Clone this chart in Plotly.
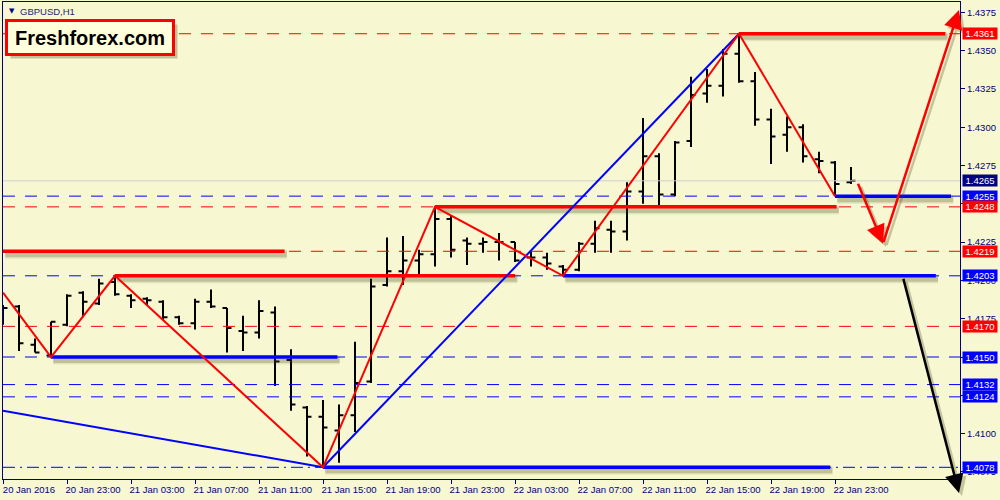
import plotly.graph_objects as go

# ---------------- data ----------------
bar_index = list(range(54))
opens = [1.4176, 1.4183, 1.4158, 1.4151, 1.4171, 1.4192, 1.4185, 1.4199, 1.4190, 1.4188,
         1.4186, 1.4176, 1.4172, 1.4186, 1.4182, 1.4167, 1.4166, 1.4179, 1.4148, 1.4117,
         1.4111, 1.4102, 1.4112, 1.4134, 1.4197, 1.4206, 1.4213, 1.4217, 1.4240, 1.4226,
         1.4224, 1.4225, 1.4225, 1.4215, 1.4215, 1.4209, 1.4207, 1.4224, 1.4233, 1.4232,
         1.4258, 1.4281, 1.4256, 1.4291, 1.4322, 1.4327, 1.4348, 1.4330, 1.4305, 1.4295,
         1.4300, 1.4279, 1.4277, 1.4264]
highs = [1.4184, 1.4184, 1.4162, 1.4173, 1.4191, 1.4193, 1.4201, 1.4203, 1.4191, 1.4189,
         1.4187, 1.4177, 1.4188, 1.4194, 1.4182, 1.4177, 1.4187, 1.4183, 1.4155, 1.4118,
         1.4122, 1.4119, 1.4160, 1.4201, 1.4228, 1.4229, 1.4220, 1.4248, 1.4242, 1.4228,
         1.4228, 1.4231, 1.4225, 1.4219, 1.4218, 1.4210, 1.4225, 1.4239, 1.4239, 1.4264,
         1.4306, 1.4283, 1.4291, 1.4333, 1.4338, 1.4351, 1.4361, 1.4336, 1.4312, 1.4307,
         1.4302, 1.4284, 1.4278, 1.4274]
lows = [1.4171, 1.4154, 1.4153, 1.4150, 1.4170, 1.4176, 1.4184, 1.4190, 1.4182, 1.4184,
        1.4174, 1.4171, 1.4168, 1.4182, 1.4153, 1.4154, 1.4162, 1.4131, 1.4115, 1.4085,
        1.4078, 1.4081, 1.4101, 1.4133, 1.4196, 1.4197, 1.4204, 1.4209, 1.4215, 1.4210,
        1.4218, 1.4213, 1.4212, 1.4209, 1.4207, 1.4203, 1.4206, 1.4218, 1.4218, 1.4226,
        1.4250, 1.4249, 1.4255, 1.4287, 1.4316, 1.4320, 1.4329, 1.4301, 1.4276, 1.4284,
        1.4277, 1.4270, 1.4255, 1.4263]
closes = [1.4182, 1.4159, 1.4153, 1.4173, 1.4190, 1.4186, 1.4198, 1.4191, 1.4187, 1.4187,
          1.4176, 1.4172, 1.4186, 1.4183, 1.4169, 1.4166, 1.4180, 1.4147, 1.4119, 1.4111,
          1.4104, 1.4112, 1.4133, 1.4196, 1.4206, 1.4213, 1.4217, 1.4240, 1.4220, 1.4224,
          1.4225, 1.4225, 1.4213, 1.4215, 1.4211, 1.4207, 1.4224, 1.4234, 1.4232, 1.4258,
          1.4281, 1.4256, 1.4290, 1.4321, 1.4327, 1.4348, 1.4330, 1.4305, 1.4294, 1.4300,
          1.4281, 1.4278, 1.4263, 1.4265]

x_tick_index = [0, 4, 8, 12, 16, 20, 24, 28, 32, 36, 40, 44, 48, 52]
x_tick_labels = ["20 Jan 2016", "20 Jan 23:00", "21 Jan 03:00", "21 Jan 07:00",
                 "21 Jan 11:00", "21 Jan 15:00", "21 Jan 19:00", "21 Jan 23:00",
                 "22 Jan 03:00", "22 Jan 07:00", "22 Jan 11:00", "22 Jan 15:00",
                 "22 Jan 19:00", "22 Jan 23:00"]
y_tick_values = [1.4075, 1.4100, 1.4125, 1.4150, 1.4175, 1.4200, 1.4225, 1.4250,
                 1.4275, 1.4300, 1.4325, 1.4350, 1.4375]

red_dashed_levels = [1.4361, 1.4248, 1.4219, 1.4170]
blue_dashed_levels = [1.4255, 1.4203, 1.4150, 1.4132, 1.4124]
blue_dashdot_level = 1.4078
bid_level = 1.4265

# thick horizontal segments: start bar, end bar, price
red_seg_start = [46, 27, 0, 7]
red_seg_end = [58.9, 52.1, 17.6, 32.0]
red_seg_price = [1.4361, 1.4248, 1.4219, 1.4203]
blue_seg_start = [3, 35, 20, 52]
blue_seg_end = [20.9, 58.3, 51.7, 59.25]
blue_seg_price = [1.4150, 1.4203, 1.4078, 1.4255]

# zigzag (red) and trend lines (blue)
zig_x = [0, 3, 7, 20, 27, 35, 46, 52]
zig_y = [1.4192, 1.4150, 1.4203, 1.4078, 1.4248, 1.4203, 1.4361, 1.4255]
blue1_x = [0, 20]
blue1_y = [1.4115, 1.4078]
blue2_x = [20, 46]
blue2_y = [1.4078, 1.4361]

# arrows: tail (x, y) -> head (x, y)
arrow_tail_x = [53.4, 55.0, 56.25]
arrow_tail_y = [1.4264, 1.4224, 1.4202]
arrow_head_x = [55.0, 59.75, 59.75]
arrow_head_y = [1.4224, 1.43765, 1.40613]
arrow_colors = ["#FF0000", "#FF0000", "#000000"]

# right-axis price labels
label_prices = [1.4361, 1.4265, 1.4255, 1.4248, 1.4219, 1.4203, 1.4170, 1.4150, 1.4132, 1.4124, 1.4078]
label_colors = ["#FF0000", "#000080", "#0000FF", "#FF0000", "#FF0000", "#0000FF", "#FF0000",
                "#0000FF", "#0000FF", "#0000FF", "#0000FF"]

# ---------------- style ----------------
BG = "#F7F7D2"
NAVY = "#000080"
FONT = "Liberation Sans"
X_MIN, X_MAX = 0.0, 59.8125
Y_MIN, Y_MAX = 1.407037, 1.438172
SH_DX, SH_DY = 0.14, -0.0002
SHADOW = "rgba(70,70,20,0.22)"
SHADOW2 = "rgba(70,70,20,0.10)"

fig = go.Figure()

fig.add_trace(go.Ohlc(
    x=bar_index, open=opens, high=highs, low=lows, close=closes,
    increasing=dict(line=dict(color="black", width=2)),
    decreasing=dict(line=dict(color="black", width=2)),
    tickwidth=0.28, hoverinfo="skip", showlegend=False))

# full-width level lines
fig.add_trace(go.Scatter(x=[X_MIN, X_MAX], y=[bid_level, bid_level], mode="lines",
                         line=dict(color="#CFCFCF", width=1), hoverinfo="skip"))
for lv in red_dashed_levels:
    fig.add_trace(go.Scatter(x=[X_MIN, X_MAX], y=[lv, lv], mode="lines",
                             line=dict(color="#FF0000", width=1, dash="12px,10px"), hoverinfo="skip"))
for lv in blue_dashed_levels:
    fig.add_trace(go.Scatter(x=[X_MIN, X_MAX], y=[lv, lv], mode="lines",
                             line=dict(color="#0000FF", width=1, dash="12px,10px"), hoverinfo="skip"))
fig.add_trace(go.Scatter(x=[X_MIN, X_MAX], y=[blue_dashdot_level, blue_dashdot_level], mode="lines",
                         line=dict(color="#0000FF", width=1, dash="12px,5px,2px,5px"), hoverinfo="skip"))

# thick segments with shadows
def thick(x0, x1, p, color):
    for w, c in ((9, SHADOW2), (6, SHADOW)):
        fig.add_trace(go.Scatter(x=[x0 + SH_DX, x1 + SH_DX], y=[p + SH_DY, p + SH_DY], mode="lines",
                                 line=dict(color=c, width=w), hoverinfo="skip"))
    fig.add_trace(go.Scatter(x=[x0, x1], y=[p, p], mode="lines",
                             line=dict(color=color, width=3.5), hoverinfo="skip"))

for a, b, p in zip(red_seg_start, red_seg_end, red_seg_price):
    thick(a, b, p, "#FF0000")
for a, b, p in zip(blue_seg_start, blue_seg_end, blue_seg_price):
    thick(a, b, p, "#0000FF")

fig.add_trace(go.Scatter(x=blue1_x, y=blue1_y, mode="lines", line=dict(color="#0000FF", width=2), hoverinfo="skip"))
fig.add_trace(go.Scatter(x=blue2_x, y=blue2_y, mode="lines", line=dict(color="#0000FF", width=2), hoverinfo="skip"))
fig.add_trace(go.Scatter(x=zig_x, y=zig_y, mode="lines", line=dict(color="#FF0000", width=2), hoverinfo="skip"))

# arrows (shadow first)
for tx, ty, hx, hy, col in zip(arrow_tail_x, arrow_tail_y, arrow_head_x, arrow_head_y, arrow_colors):
    for c, sx, sy in (("rgba(70,70,20,0.28)", 3, -3), (col, 0, 0)):
        fig.add_annotation(x=hx, y=hy, ax=tx, ay=ty, xref="x", yref="y", axref="x", ayref="y",
                           text="", showarrow=True, arrowhead=2, arrowsize=1.5, arrowwidth=2.5,
                           arrowcolor=c, xshift=sx, yshift=sy)

# price labels on the right axis
for p, c in zip(label_prices, label_colors):
    fig.add_annotation(xref="paper", yref="y", x=1, y=p, xanchor="left", yanchor="middle",
                       xshift=2, text=f"{p:.4f}", showarrow=False,
                       font=dict(family=FONT, size=9.5, color="white"),
                       bgcolor=c, borderpad=0, width=34, height=11, align="center")

# logo with shadow
for bg, bc, sx, sy in (("rgba(70,70,20,0.30)", "rgba(70,70,20,0.0)", 6, -21), ("#FFFFDC", "#FF0000", 2, -17)):
    fig.add_annotation(xref="paper", yref="paper", x=0, y=1, xanchor="left", yanchor="top",
                       xshift=sx, yshift=sy, showarrow=False,
                       text="<b>Freshforex.com</b>" if bc == "#FF0000" else "",
                       font=dict(family=FONT, size=20, color="black"),
                       bgcolor=bg, bordercolor=bc, borderwidth=3, borderpad=0,
                       width=164, height=31, align="center")

# symbol caption
fig.add_annotation(xref="paper", yref="paper", x=0, y=1, xanchor="left", yanchor="middle",
                   xshift=15, yshift=-9, showarrow=False, text="GBPUSD,H1",
                   font=dict(family=FONT, size=9.5, color="#1E1E78"))
fig.add_annotation(xref="paper", yref="paper", x=0, y=1, xanchor="left", yanchor="middle",
                   xshift=4, yshift=-9, showarrow=False, text="▼",
                   font=dict(family="DejaVu Sans", size=7, color="#000080"))

fig.update_layout(
    width=1000, height=500,
    margin=dict(l=3, r=40, t=2, b=21),
    paper_bgcolor=BG, plot_bgcolor=BG,
    showlegend=False, hovermode=False,
    xaxis=dict(range=[X_MIN, X_MAX], tickvals=x_tick_index, ticktext=x_tick_labels,
               ticks="outside", ticklen=4, tickcolor=NAVY, showgrid=False, zeroline=False,
               showline=True, linecolor=NAVY, linewidth=1, mirror=True,
               tickfont=dict(family=FONT, size=9.5, color=NAVY), ticklabelshift=26,
               ticklabelstandoff=-2,
               rangeslider=dict(visible=False)),
    yaxis=dict(range=[Y_MIN, Y_MAX], side="right", tickvals=y_tick_values, tickformat=".4f",
               ticks="outside", ticklen=4, tickcolor=NAVY, showgrid=False, zeroline=False,
               showline=True, linecolor=NAVY, linewidth=1, mirror=True,
               tickfont=dict(family=FONT, size=9.5, color=NAVY)),
)

fig.write_html("out.html", config={"displayModeBar": False},
               post_script="document.body.style.margin='0';document.body.style.padding='0';"
                           "document.body.style.overflow='hidden';"
                           "document.body.style.background='" + BG + "';")
